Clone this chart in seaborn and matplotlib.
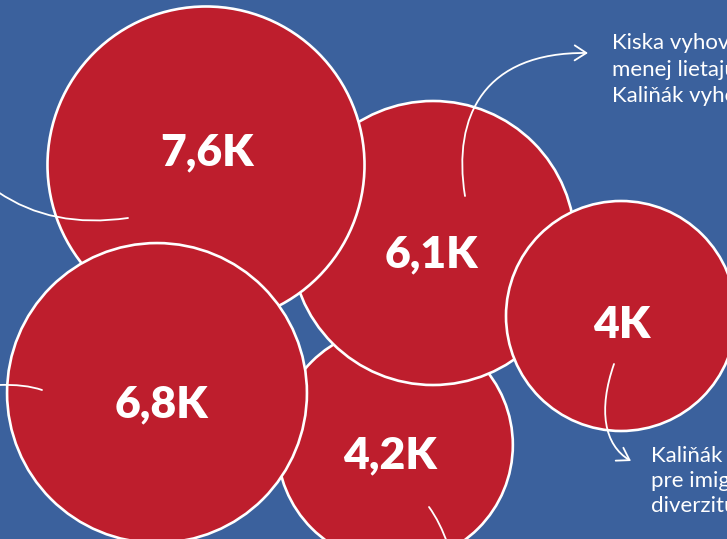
import numpy as np
import pandas as pd
import seaborn as sns
import matplotlib
matplotlib.use("Agg")
import matplotlib.pyplot as plt
from matplotlib.path import Path
from matplotlib.patches import FancyArrowPatch, PathPatch

# ---- data ----
labels = ["4,2K", "6,1K", "4K", "7,6K", "6,8K"]   # drawing order (back to front)
values = [4.2, 6.1, 4.0, 7.6, 6.8]                 # thousands

# ---- layout (pixel coordinates, y downward) ----
cx = [395, 433, 621, 206, 157]
cy = [445, 243, 316, 165, 393]
label_x = [390, 431, 622, 207, 161]
label_y = [468, 267, 338, 165, 417]   # baselines

note_top = ["Kiska vyhovuje", "menej lietajúcim,", "Kaliňák vyhovuje"]
note_bottom = ["Kaliňák je lepší", "pre imigráciu a", "diverzitu"]

BLUE = "#3B619D"
RED = "#BE1E2D"
W, H, DPI = 727, 539, 100

sns.set_theme(style="white")
plt.rcParams["font.family"] = ["Lato", "DejaVu Sans"]

fig = plt.figure(figsize=(W / DPI, H / DPI), dpi=DPI, facecolor=BLUE)
ax = fig.add_axes([0, 0, 1, 1])
ax.set_facecolor(BLUE)

df = pd.DataFrame({"x": cx, "y": cy, "value": values, "label": labels})

# marker area proportional to value: radius_px = k*sqrt(v)
k = 57.5
px_to_pt = 72.0 / DPI
s_per_unit = (2 * k * px_to_pt) ** 2
vmin, vmax = min(values), max(values)
sns.scatterplot(data=df, x="x", y="y", size="value",
                sizes=(s_per_unit * vmin, s_per_unit * vmax),
                size_norm=(vmin, vmax), color=RED, edgecolor="white",
                linewidth=1.9, alpha=1, legend=False, ax=ax, zorder=2)
ax.set_xlim(0, W)
ax.set_ylim(H, 0)
ax.set_axis_off()

for lx, ly, t in zip(label_x, label_y, df["label"]):
    ax.text(lx, ly, t, ha="center", va="baseline", color="white",
            fontsize=32, fontweight="heavy", zorder=5)

LW = 1.3
def curve(verts, arrow=False):
    n = len(verts)
    if n == 3:
        codes = [Path.MOVETO, Path.CURVE3, Path.CURVE3]
    else:
        codes = [Path.MOVETO, Path.CURVE4, Path.CURVE4, Path.CURVE4]
    p = Path(verts, codes)
    if arrow:
        a = FancyArrowPatch(path=p, arrowstyle="->,head_length=0.7,head_width=0.45",
                            mutation_scale=12, color="white", lw=LW, zorder=6)
        ax.add_patch(a)
    else:
        ax.add_patch(PathPatch(p, fill=False, edgecolor="white", lw=LW,
                               capstyle="round", zorder=6))

curve([(-2, 192), (52, 229), (128, 218)])
curve([(-2, 385), (25, 384), (42, 390)])
curve([(429, 507), (440, 522), (448, 545)])
curve([(465, 196), (452, 115), (485, 52), (588, 53)], arrow=True)
curve([(614, 364), (598, 410), (604, 445), (631, 461)], arrow=True)

for i, t in enumerate(note_top):
    ax.text(612, 49 + i * 26.5, t, ha="left", va="baseline", color="white",
            fontsize=16, zorder=6)
for i, t in enumerate(note_bottom):
    ax.text(651, 462 + i * 25, t, ha="left", va="baseline", color="white",
            fontsize=16, zorder=6)

fig.savefig("out.png", dpi=DPI, facecolor=BLUE)
